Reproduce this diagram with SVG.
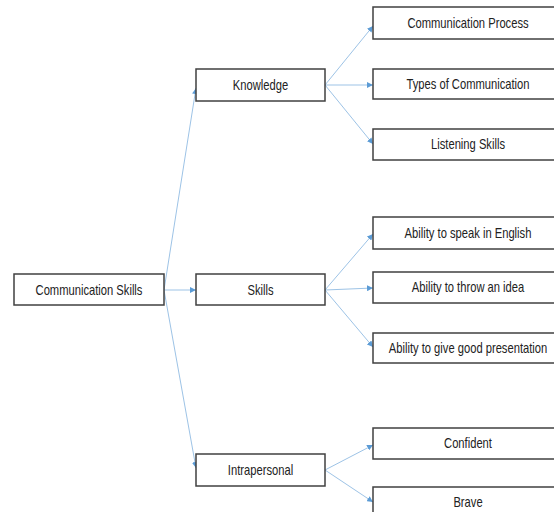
<svg xmlns="http://www.w3.org/2000/svg" width="554" height="512" viewBox="0 0 554 512">
<defs>
<marker id="ah" viewBox="0 0 10 10" refX="10" refY="5" markerWidth="6" markerHeight="6" markerUnits="userSpaceOnUse" orient="auto">
<path d="M0,0 L10,5 L0,10 z" fill="#5b9bd5"/>
</marker>
<style>
rect{fill:#fff;stroke:#404040;stroke-width:1.5}
text{font-family:"Liberation Sans",Arial,sans-serif;font-size:14px;fill:#222;text-anchor:middle;dominant-baseline:central}
.c line{stroke:#9dc3e6;stroke-width:1;marker-end:url(#ah)}
</style>
</defs>
<rect x="0" y="0" width="554" height="512" style="fill:#fff;stroke:none"/>
<g class="c" id="connectors">
<line x1="164" y1="290" x2="196" y2="88"/>
<line x1="164" y1="290" x2="196" y2="290"/>
<line x1="164" y1="290" x2="196" y2="468"/>
<line x1="325" y1="85" x2="373" y2="26"/>
<line x1="325" y1="85" x2="373" y2="85"/>
<line x1="325" y1="85" x2="373" y2="144"/>
<line x1="325" y1="290" x2="373" y2="234"/>
<line x1="325" y1="290" x2="373" y2="288"/>
<line x1="325" y1="290" x2="373" y2="347"/>
<line x1="325" y1="470" x2="373" y2="445"/>
<line x1="325" y1="470" x2="373" y2="502"/>
</g>
<g id="n-comm"><rect x="14" y="274" width="150" height="31"/><text transform="translate(89 290.5) scale(0.8 1)">Communication Skills</text></g>
<g id="n-knowledge"><rect x="196" y="69" width="129" height="32"/><text transform="translate(260.5 85.5) scale(0.8 1)">Knowledge</text></g>
<g id="n-skills"><rect x="196" y="274" width="129" height="31"/><text transform="translate(260.5 290.5) scale(0.8 1)">Skills</text></g>
<g id="n-intra"><rect x="196" y="454" width="129" height="32"/><text transform="translate(260.5 470.5) scale(0.8 1)">Intrapersonal</text></g>
<g id="n-process"><rect x="373" y="7" width="190" height="32"/><text transform="translate(468 23.5) scale(0.8 1)">Communication Process</text></g>
<g id="n-types"><rect x="373" y="69" width="190" height="30"/><text transform="translate(468 84.5) scale(0.8 1)">Types of Communication</text></g>
<g id="n-listening"><rect x="373" y="129" width="190" height="31"/><text transform="translate(468 145) scale(0.8 1)">Listening Skills</text></g>
<g id="n-english"><rect x="373" y="217" width="190" height="32"/><text transform="translate(468 233.5) scale(0.8 1)">Ability to speak in English</text></g>
<g id="n-idea"><rect x="373" y="272" width="190" height="31"/><text transform="translate(468 288) scale(0.8 1)">Ability to throw an idea</text></g>
<g id="n-present"><rect x="373" y="333" width="190" height="30"/><text transform="translate(468 348.5) scale(0.8 1)">Ability to give good presentation</text></g>
<g id="n-confident"><rect x="373" y="428" width="190" height="31"/><text transform="translate(468 444) scale(0.8 1)">Confident</text></g>
<g id="n-brave"><rect x="373" y="487" width="190" height="32"/><text transform="translate(468 502.5) scale(0.8 1)">Brave</text></g>
</svg>
